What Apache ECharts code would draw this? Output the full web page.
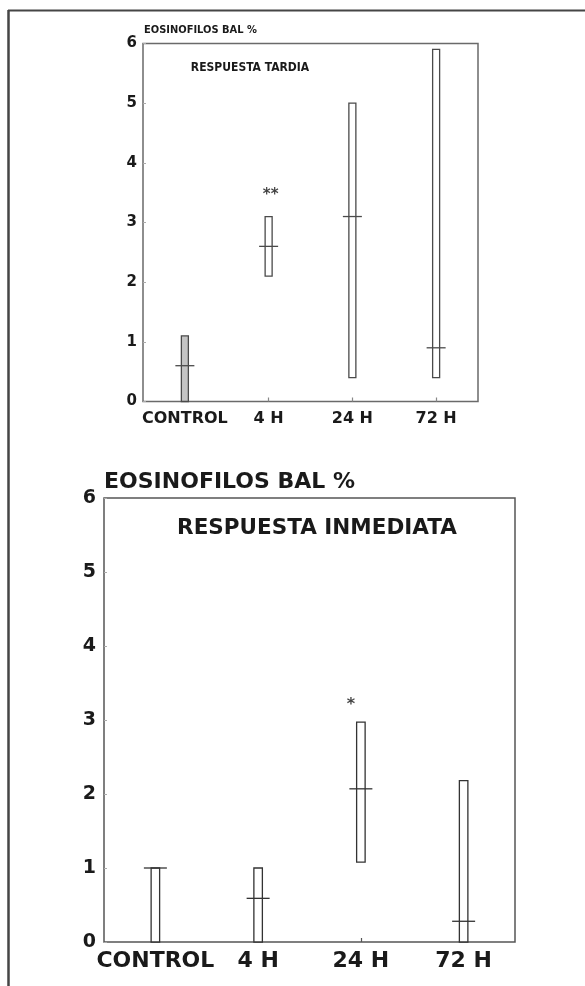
<!DOCTYPE html>
<html>
<head>
<meta charset="utf-8">
<script src="https://cdn.jsdelivr.net/npm/echarts@6/dist/echarts.min.js"></script>
<style>
html,body{margin:0;padding:0;background:#fff;}
#main{width:585px;height:986px;}
</style>
</head>
<body>
<div id="main"></div>
<script>
// ---- data ----
const categories = ['CONTROL', '4 H', '24 H', '72 H'];
const yTicks = [0, 1, 2, 3, 4, 5, 6];

// Respuesta tardia (top panel)
const tardiaLow    = [0,   2.1, 0.4, 0.4];
const tardiaHigh   = [1.1, 3.1, 5.0, 5.9];
const tardiaMedian = [0.6, 2.6, 3.1, 0.9];
const tardiaSigText  = ['', '**', '', ''];
const tardiaSigValue = [null, 3.53, null, null];

// Respuesta inmediata (bottom panel)
const inmediataLow    = [0,   0,    1.08, 0];
const inmediataHigh   = [1.0, 1.0,  2.97, 2.18];
const inmediataMedian = [1.0, 0.59, 2.07, 0.28];
const inmediataSigText  = ['', '', '*', ''];
const inmediataSigValue = [null, null, 3.27, null];

const yTitle = 'EOSINOFILOS BAL %';
const titleTop = 'RESPUESTA TARDIA';
const titleBottom = 'RESPUESTA INMEDIATA';

// ---- styling ----
const NARROW = "'Liberation Sans Narrow', 'DejaVu Sans Condensed', 'Liberation Sans', sans-serif";
const WIDE = "'DejaVu Sans', 'Liberation Sans', sans-serif";

function boxSeries(gridIndex, low, high, med, barW, medW, fills, stroke) {
  return {
    type: 'custom',
    xAxisIndex: gridIndex,
    yAxisIndex: gridIndex,
    data: categories.map((c, i) => [i, low[i], high[i], med[i]]),
    encode: { x: 0, y: [1, 2, 3] },
    renderItem: function (params, api) {
      const i = api.value(0);
      const pLow = api.coord([i, api.value(1)]);
      const pHigh = api.coord([i, api.value(2)]);
      const pMed = api.coord([i, api.value(3)]);
      return {
        type: 'group',
        children: [
          {
            type: 'rect',
            shape: { x: pLow[0] - barW / 2, y: pHigh[1], width: barW, height: pLow[1] - pHigh[1] },
            style: { fill: fills[i], stroke: stroke, lineWidth: 1.3 }
          },
          {
            type: 'line',
            shape: { x1: pMed[0] - medW / 2, y1: pMed[1], x2: pMed[0] + medW / 2, y2: pMed[1] },
            style: { stroke: stroke, lineWidth: 1.3 }
          }
        ]
      };
    },
    z: 3
  };
}

function sigSeries(gridIndex, texts, values, fontSize, offset) {
  const data = [];
  values.forEach((v, i) => {
    if (v !== null) data.push({ value: [i, v], label: { formatter: texts[i] } });
  });
  return {
    type: 'scatter',
    xAxisIndex: gridIndex,
    yAxisIndex: gridIndex,
    symbolSize: 0,
    data: data,
    label: {
      show: true,
      position: 'inside',
      offset: offset,
      color: '#111',
      fontSize: fontSize,
      fontWeight: 'bold',
      fontFamily: WIDE
    },
    z: 4
  };
}

function xAxisCfg(gridIndex, fontSize, margin, tickColor) {
  return {
    type: 'category',
    gridIndex: gridIndex,
    data: categories,
    boundaryGap: true,
    axisLine: { show: false },
    axisTick: { show: true, inside: true, length: 4, alignWithLabel: true, interval: 0, lineStyle: { color: tickColor, width: 1.2 } },
    axisLabel: { interval: 0, color: '#1a1a1a', fontSize: fontSize, fontWeight: 'bold', fontFamily: WIDE, margin: margin },
    splitLine: { show: false }
  };
}

function yAxisCfg(gridIndex, fontSize, margin, tickColor) {
  return {
    type: 'value',
    gridIndex: gridIndex,
    min: yTicks[0],
    max: yTicks[yTicks.length - 1],
    interval: 1,
    axisLine: { show: false },
    axisTick: { show: true, inside: true, length: 3, lineStyle: { color: tickColor, width: 1 } },
    axisLabel: { color: '#1a1a1a', fontSize: fontSize, fontWeight: 'bold', fontFamily: WIDE, margin: margin },
    splitLine: { show: false }
  };
}

const chart = echarts.init(document.getElementById('main'));
chart.setOption({
  animation: false,
  backgroundColor: '#ffffff',
  grid: [
    { left: 143, top: 43.5, width: 335, height: 358, show: true, borderColor: '#6a6a6a', borderWidth: 1.5, backgroundColor: 'transparent' },
    { left: 104, top: 498, width: 411, height: 444, show: true, borderColor: '#555555', borderWidth: 1.5, backgroundColor: 'transparent' }
  ],
  xAxis: [
    xAxisCfg(0, 16, 9, '#888'),
    xAxisCfg(1, 22, 8, '#555')
  ],
  yAxis: [
    yAxisCfg(0, 15, 6, '#aaa'),
    yAxisCfg(1, 19, 8, '#aaa')
  ],
  series: [
    boxSeries(0, tardiaLow, tardiaHigh, tardiaMedian, 7, 19, ['#c4c4c4', '#ffffff', '#ffffff', '#ffffff'], '#4a4a4a'),
    boxSeries(1, inmediataLow, inmediataHigh, inmediataMedian, 8.5, 23, ['#ffffff', '#ffffff', '#ffffff', '#ffffff'], '#333333'),
    sigSeries(0, tardiaSigText, tardiaSigValue, 15, [2, 4]),
    sigSeries(1, inmediataSigText, inmediataSigValue, 16, [-10, 5])
  ],
  graphic: [
    { type: 'line', shape: { x1: 8, y1: 10.5, x2: 585, y2: 10.5 }, style: { stroke: '#454545', lineWidth: 2 }, silent: true },
    { type: 'line', shape: { x1: 8.5, y1: 10, x2: 8.5, y2: 986 }, style: { stroke: '#454545', lineWidth: 2.5 }, silent: true },
    { type: 'text', left: 144, top: 25, style: { text: yTitle, fill: '#1a1a1a', font: 'bold 11px ' + NARROW } },
    { type: 'text', x: 250, y: 68, style: { text: titleTop, fill: '#1a1a1a', font: 'bold 12px ' + NARROW, align: 'center', verticalAlign: 'middle' } },
    { type: 'text', left: 104, top: 471, style: { text: yTitle, fill: '#1a1a1a', font: 'bold 22px ' + WIDE } },
    { type: 'text', x: 317, y: 528, style: { text: titleBottom, fill: '#1a1a1a', font: 'bold 21.5px ' + WIDE, align: 'center', verticalAlign: 'middle' } }
  ]
});
</script>
</body>
</html>
